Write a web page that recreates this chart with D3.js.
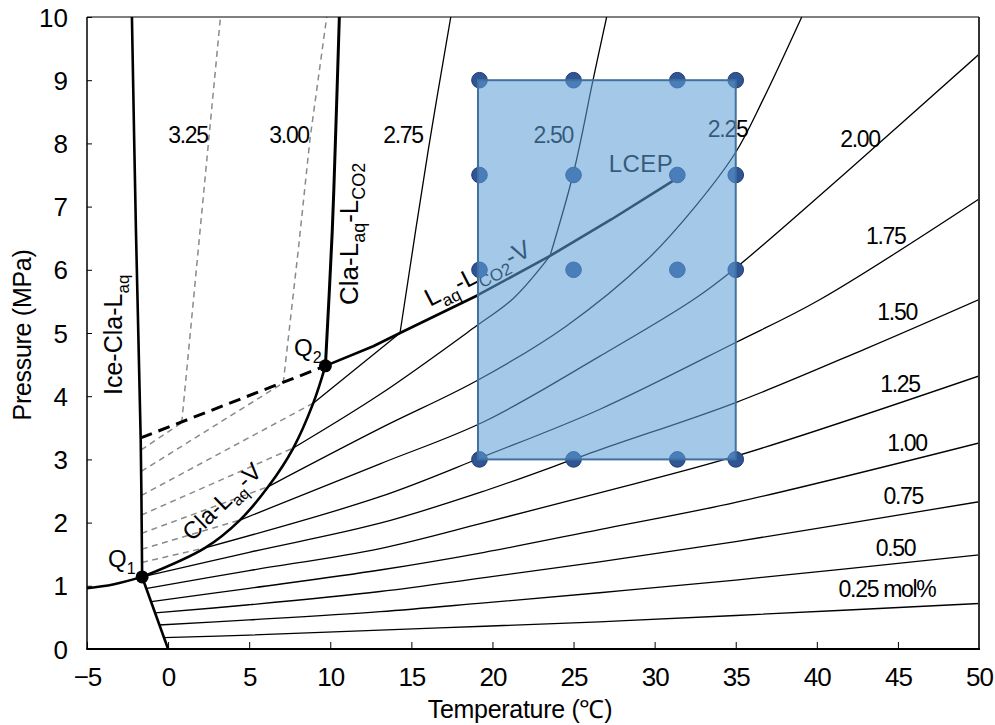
<!DOCTYPE html>
<html>
<head>
<meta charset="utf-8">
<script src="https://cdn.jsdelivr.net/npm/d3@7"></script>
<style>
  body { margin: 0; background: #fff; }
  svg { display: block; }
  text { font-family: "Liberation Sans", Arial, sans-serif; fill: #000; }
</style>
</head>
<body>
<svg id="chart" width="995" height="725"></svg>
<script>
// ---- axis ticks ----
const xTicks = [-5, 0, 5, 10, 15, 20, 25, 30, 35, 40, 45, 50];
const yTicks = [0, 1, 2, 3, 4, 5, 6, 7, 8, 9, 10];

// ---- phase boundaries, [temperature °C, pressure MPa] ----
const iceV = [[-5, 0.96], [-3.4, 1.02], [-1.6, 1.14]];
const iceLaq = [[-1.6, 1.14], [0, 0]];
const iceClaLaq = [[-2.23, 10], [-1.98, 6.6], [-1.69, 3.34], [-1.6, 1.14]];
const claLaqV = [[-1.6, 1.14], [2.28, 1.6], [4.43, 2.04], [6.18, 2.57], [7.72, 3.18], [8.95, 3.89], [9.7, 4.48]];
const claLaqLco2 = [[9.7, 4.48], [10.12, 6.6], [10.3, 7.9], [10.56, 10]];
const laqLco2V = [[9.7, 4.48], [12.65, 4.79], [14.3, 5.0], [19.03, 5.59], [23.55, 6.22], [27.35, 6.8], [31.2, 7.42]];
const metastableQ2 = [[-1.69, 3.34], [9.7, 4.48]];
const q1 = [-1.6, 1.14];
const q2 = [9.7, 4.48];

// ---- CO2 iso-concentration lines in the liquid region (mol%) ----
const iso025 = [[-0.28, 0.18], [5, 0.22], [13.07, 0.30], [19.5, 0.36], [26.6, 0.43], [35, 0.53], [50, 0.72]];
const iso050 = [[-0.56, 0.38], [5, 0.46], [13.07, 0.59], [19.5, 0.73], [26.6, 0.89], [35, 1.09], [50, 1.49]];
const iso075 = [[-0.8, 0.57], [5, 0.70], [13.07, 0.91], [19.5, 1.13], [26.6, 1.38], [35, 1.70], [50, 2.33]];
const iso100 = [[-1.03, 0.75], [5, 0.96], [13.07, 1.25], [19.5, 1.53], [26.6, 1.89], [35, 2.32], [50, 3.26]];
const iso125 = [[-1.3, 0.96], [5, 1.24], [13.07, 1.59], [19.5, 2.0], [26.6, 2.47], [35, 3.05], [50, 4.32]];
const iso150 = [[-1.6, 1.14], [5, 1.53], [13.07, 1.99], [19.5, 2.5], [26.6, 3.15], [35, 3.9], [43, 4.75], [50, 5.53]];
const iso175 = [[2.28, 1.6], [13.07, 2.41], [19.5, 3.05], [26.6, 3.79], [35, 4.85], [40.2, 5.53], [50, 7.12]];
const iso200 = [[4.43, 2.04], [13.07, 2.93], [19.5, 3.6], [26.6, 4.63], [32.4, 5.53], [35, 6.03], [41.8, 7.54], [50, 9.41]];
const iso225 = [[6.18, 2.57], [13.07, 3.49], [19.0, 4.24], [24.5, 5.1], [29.5, 6.15], [32.5, 7.0], [35, 7.86], [36.7, 8.7], [39.07, 10]];
const iso250 = [[7.72, 3.18], [13.07, 4.03], [19.0, 5.11], [21.3, 5.55], [23.55, 6.22]];
const iso250Upper = [[23.55, 6.22], [25, 7.54], [26.2, 9.0], [27.04, 10]];
const iso275 = [[8.95, 3.89], [14.3, 5.0]];
const iso275Upper = [[14.3, 5.0], [16.05, 7.91], [17.43, 10]];

// ---- iso-concentration lines inside the hydrate field (dashed) ----
const hyd175 = [[-1.61, 1.37], [2.28, 1.6]];
const hyd200 = [[-1.62, 1.58], [4.43, 2.04]];
const hyd225 = [[-1.63, 1.83], [6.18, 2.57]];
const hyd250 = [[-1.64, 2.12], [7.72, 3.18]];
const hyd275 = [[-1.64, 2.43], [8.95, 3.89]];
const hyd300 = [[-1.65, 2.81], [7.1, 4.21]];
const hyd300Upper = [[7.1, 4.21], [8.03, 6.32], [8.75, 8.07], [9.78, 10]];
const hyd325 = [[-1.66, 3.15], [0.84, 3.58]];
const hyd325Upper = [[0.84, 3.58], [3.23, 10]];

// ---- experimental conditions grid ----
const runTemps = [19.2, 25, 31.4, 35];
const runPressures = [3, 6, 7.5, 9];

// ---- concentration labels ----
const isoLabels = ["0.25 mol%", "0.50", "0.75", "1.00", "1.25", "1.50", "1.75", "2.00", "2.25", "2.50", "2.75", "3.00", "3.25"];

// ================= drawing =================
const plot = { left: 87, right: 979, top: 17, bottom: 649 };
const svg = d3.select("#chart");

const x = d3.scaleLinear().domain([-5, 50]).range([plot.left, plot.right]);
const y = d3.scaleLinear().domain([0, 10]).range([plot.bottom, plot.top]);

svg.append("defs").append("clipPath").attr("id", "plotClip")
  .append("rect")
  .attr("x", plot.left).attr("y", plot.top)
  .attr("width", plot.right - plot.left).attr("height", plot.bottom - plot.top);

const g = svg.append("g").attr("clip-path", "url(#plotClip)");

const smooth = d3.line().x(d => x(d[0])).y(d => y(d[1])).curve(d3.curveCatmullRom.alpha(0.5));
const straight = d3.line().x(d => x(d[0])).y(d => y(d[1]));

function path(data, gen, stroke, width, dash) {
  const p = g.append("path").attr("d", gen(data))
    .attr("fill", "none").attr("stroke", stroke).attr("stroke-width", width)
    .attr("stroke-linejoin", "round");
  if (dash) p.attr("stroke-dasharray", dash);
  return p;
}

// iso-concentration lines
[iso025, iso050, iso075, iso100, iso125, iso150, iso175, iso200, iso225, iso250, iso250Upper, iso275, iso275Upper]
  .forEach(d => path(d, smooth, "#000", 1.3));

// hydrate-field iso lines
[hyd175, hyd200, hyd225, hyd250, hyd275, hyd300, hyd300Upper, hyd325, hyd325Upper]
  .forEach(d => path(d, straight, "#8a8a8a", 1.5, "6,4.5"));

// three-phase boundaries
path(iceV, smooth, "#000", 2.4);
path(iceLaq, straight, "#000", 2.6);
path(iceClaLaq, smooth, "#000", 2.6);
path(claLaqV, smooth, "#000", 2.6);
path(claLaqLco2, smooth, "#000", 3);
path(laqLco2V, straight, "#000", 2.6);
path(metastableQ2, straight, "#000", 3, "12,7");

// ---- text helper (supports subscripts) ----
function label(parts, px, py, opts = {}) {
  const size = opts.size || 23;
  const sub = opts.sub || Math.round(size * 0.68);
  const t = g.append("text")
    .attr("transform", `translate(${px},${py}) rotate(${opts.rotate || 0})`)
    .attr("text-anchor", opts.anchor || "start")
    .attr("font-size", size)
    .attr("letter-spacing", opts.spacing || 0);
  let shifted = 0;
  parts.forEach(part => {
    const isSub = Array.isArray(part);
    const txt = isSub ? part[0] : part;
    const ts = t.append("tspan").text(txt).attr("font-size", isSub ? sub : size);
    const target = isSub ? size * 0.28 : 0;
    if (target !== shifted) { ts.attr("dy", target - shifted); shifted = target; }
  });
  return t;
}

// iso-concentration labels (centre positions in data units)
const labelAt = [
  [44.33, 0.82], [44.85, 1.47], [45.33, 2.29], [45.56, 3.14], [45.13, 4.07],
  [44.95, 5.21], [44.25, 6.41], [42.66, 7.94], [34.5, 8.1], [23.75, 8.0],
  [14.48, 8.0], [7.46, 8.0], [1.23, 8.0]
];
isoLabels.forEach((s, i) => {
  label([s], x(labelAt[i][0]), y(labelAt[i][1]), { anchor: "middle", size: 23, spacing: -1.3 });
});

// phase boundary labels
label(["Ice-Cla-L", ["aq"]], 122, 395, { rotate: -90, size: 25, sub: 17 });
label(["Cla-L", ["aq"], "-L", ["CO2"]], 358, 305, { rotate: -90, size: 26, sub: 18 });
label(["Cla-L", ["aq"], "-V"], 192, 542, { rotate: -44, size: 24, sub: 16 });
label(["L", ["aq"], "-L", ["CO2"], "-V"], 430, 307, { rotate: -27, size: 25, sub: 17 });
label(["LCEP"], 641, 172, { anchor: "middle", size: 24, spacing: 0.5 });
label(["Q", ["1"]], 108, 567, { size: 24, sub: 16 });
label(["Q", ["2"]], 294, 356, { size: 24, sub: 16 });

// experimental points
const grid = [];
runPressures.forEach(p => runTemps.forEach(t => grid.push([t, p])));
g.selectAll("circle.run").data(grid).enter().append("circle")
  .attr("class", "run")
  .attr("cx", d => x(d[0])).attr("cy", d => y(d[1])).attr("r", 7.8)
  .attr("fill", "#2f5597").attr("stroke", "#1f3a6b").attr("stroke-width", 1);

// shaded experimental window
const tExt = d3.extent(runTemps), pExt = d3.extent(runPressures);
g.append("rect")
  .attr("x", x(tExt[0]) - 1.5).attr("y", y(pExt[1]))
  .attr("width", x(tExt[1]) - x(tExt[0]) + 1.5).attr("height", y(pExt[0]) - y(pExt[1]))
  .attr("fill", "rgb(95,158,214)").attr("fill-opacity", 0.57)
  .attr("stroke", "rgb(65,113,156)").attr("stroke-width", 2);

// quadruple points
g.selectAll("circle.q").data([q1, q2]).enter().append("circle")
  .attr("class", "q")
  .attr("cx", d => x(d[0])).attr("cy", d => y(d[1])).attr("r", 6.5)
  .attr("fill", "#000");

// ---- axes ----
const ax = svg.append("g").attr("transform", `translate(0,${plot.bottom})`)
  .call(d3.axisBottom(x).tickValues(xTicks).tickSize(-7).tickPadding(0).tickFormat(d3.format("d")));
ax.select(".domain").remove();
ax.selectAll(".tick line").attr("stroke", "#000").attr("stroke-width", 1);
ax.selectAll(".tick text").attr("font-size", 26).attr("y", 37).attr("dy", 0)
  .attr("font-family", "'Liberation Sans', Arial, sans-serif").attr("letter-spacing", -1);

const ay = svg.append("g").attr("transform", `translate(${plot.left},0)`)
  .call(d3.axisLeft(y).tickValues(yTicks).tickSize(-5).tickPadding(0).tickFormat(d3.format("d")));
ay.select(".domain").remove();
ay.selectAll(".tick line").attr("stroke", "#000").attr("stroke-width", 1);
ay.selectAll(".tick text").attr("font-size", 26).attr("x", -19).attr("dy", "0.35em")
  .attr("font-family", "'Liberation Sans', Arial, sans-serif");

// frame
const frame = svg.append("g").attr("fill", "none");
frame.append("line").attr("x1", plot.left).attr("x2", plot.right).attr("y1", plot.top).attr("y2", plot.top)
  .attr("stroke", "#000").attr("stroke-width", 1.2);
frame.append("line").attr("x1", plot.left).attr("x2", plot.left).attr("y1", plot.top).attr("y2", plot.bottom)
  .attr("stroke", "#000").attr("stroke-width", 1.5);
frame.append("line").attr("x1", plot.right).attr("x2", plot.right).attr("y1", plot.top).attr("y2", plot.bottom + 1)
  .attr("stroke", "#333").attr("stroke-width", 2);
frame.append("line").attr("x1", plot.left - 0.75).attr("x2", plot.right + 1).attr("y1", plot.bottom).attr("y2", plot.bottom)
  .attr("stroke", "#000").attr("stroke-width", 2);

// axis titles
svg.append("text").attr("x", (plot.left + plot.right) / 2 - 13).attr("y", 718)
  .attr("text-anchor", "middle").attr("font-size", 25).attr("letter-spacing", -0.3)
  .text("Temperature (℃)");
svg.append("text").attr("transform", `translate(31,${(plot.top + plot.bottom) / 2 + 2}) rotate(-90)`)
  .attr("text-anchor", "middle").attr("font-size", 25).attr("letter-spacing", -0.3)
  .text("Pressure (MPa)");
</script>
</body>
</html>
